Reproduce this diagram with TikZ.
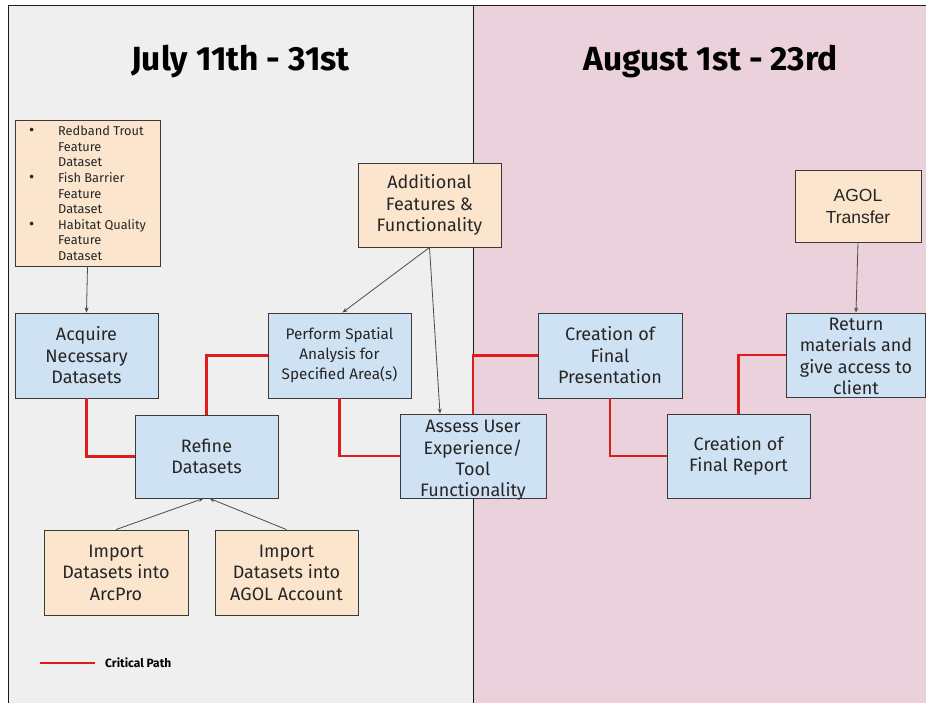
\documentclass[tikz,border=0pt]{standalone}
\usepackage{fontspec}
\setmainfont{Fira Sans}
\newfontfamily\arialf{Liberation Sans}
\usetikzlibrary{arrows.meta}
\definecolor{leftbg}{HTML}{EFEFEF}
\definecolor{rightbg}{HTML}{EAD1DC}
\definecolor{orangefill}{HTML}{FCE5CD}
\definecolor{bluefill}{HTML}{CFE2F3}
\definecolor{critred}{HTML}{E01B1B}
\definecolor{boxline}{HTML}{3A3A3A}
\definecolor{arrowgray}{HTML}{4A4A4A}
\definecolor{framecol}{HTML}{1A1A1A}
\begin{document}
\begin{tikzpicture}[x=1pt,y=-1pt,
  box/.style={draw=boxline, line width=0.9pt, align=center, inner sep=0pt, text=black!85, font=\fontsize{18}{21.5}\selectfont},
  bluebox/.style={box, fill=bluefill},
  orangebox/.style={box, fill=orangefill},
  crit/.style={draw=critred, line width=2.6pt},
  arr/.style={draw=arrowgray, line width=0.8pt, -{Stealth[length=5pt,width=4pt]}},
  titletext/.style={font=\bfseries\fontsize{33.5}{38}\selectfont}]
\useasboundingbox (0,0) rectangle (926,703);
\fill[leftbg] (8,6) rectangle (473,703);
\fill[rightbg] (473,6) rectangle (926,703);
\draw[framecol, line width=1pt] (8,703) -- (8,6) -- (926,6);
\draw[framecol, line width=1pt] (473,6) -- (473,703);

\node[titletext] (t1) at (240.5,62) {July 11th - 31st};
\node[titletext] (t2) at (710.5,62) {August 1st - 23rd};

\node[orangebox, minimum width=145pt, minimum height=146pt, font=\fontsize{12.8}{15.6}\selectfont] (feat) at (87.5,193)
  {\raisebox{-2pt}[\height][\depth]{\begin{tabular}{@{}p{29pt}@{}l@{}}
   {\fontsize{16}{15}\selectfont\textbullet} & Redband Trout\\ & Feature\\ & Dataset\\
   {\fontsize{16}{15}\selectfont\textbullet} & Fish Barrier\\ & Feature\\ & Dataset\\
   {\fontsize{16}{15}\selectfont\textbullet} & Habitat Quality\\ & Feature\\ & Dataset
   \end{tabular}}};
\node[bluebox, minimum width=143pt, minimum height=85pt] (acq) at (86.5,355.5) {Acquire\\Necessary\\Datasets};
\node[bluebox, minimum width=143pt, minimum height=83pt] (refine) at (206.5,456.5) {Refine\\Datasets};
\node[bluebox, minimum width=143pt, minimum height=85pt, font=\fontsize{15.3}{20}\selectfont] (spatial) at (339.5,355.5) {Perform Spatial\\Analysis for\\Specified Area(s)};
\node[orangebox, minimum width=143pt, minimum height=84pt] (addl) at (429.5,205) {Additional\\Features \&\\Functionality};
\node[bluebox, minimum width=146pt, minimum height=84pt] (assess) at (473,456)
  {\raisebox{-4.5pt}[\height][\depth]{\parbox{144pt}{\centering\fontsize{18}{21.3}\selectfont Assess User\\Experience/\\Tool\\Functionality}}};
\node[orangebox, minimum width=144pt, minimum height=85pt] (imparc) at (116,572.5) {Import\\Datasets into\\ArcPro};
\node[orangebox, minimum width=143pt, minimum height=85pt] (impagol) at (286.5,572.5) {Import\\Datasets into\\AGOL Account};
\node[bluebox, minimum width=144pt, minimum height=85pt] (pres) at (610,355.5) {Creation of\\Final\\Presentation};
\node[bluebox, minimum width=143pt, minimum height=84pt] (report) at (738.5,456) {Creation of\\Final Report};
\node[orangebox, minimum width=126pt, minimum height=72pt, font=\arialf\fontsize{17.5}{22}\selectfont] (agolt) at (858,206) {AGOL\\Transfer};
\node[bluebox, minimum width=139pt, minimum height=84pt] (ret) at (856,355)
  {\raisebox{-1.5pt}[\height][\depth]{\parbox{138pt}{\centering\fontsize{18}{21.2}\selectfont Return\\materials and\\give access to\\client}}};

\draw[crit] (acq.south) |- (refine.west);
\draw[crit] (refine.north) |- (spatial.west);
\draw[crit] (spatial.south) |- (assess.west);
\draw[crit] (assess.north) |- (pres.west);
\draw[crit] (pres.south) |- (report.west);
\draw[crit] (report.north) |- (ret.west);

\draw[arr] (feat.south) -- (acq.north);
\draw[arr] (addl.south) -- ([xshift=3pt]spatial.north);
\draw[arr] (addl.south) -- ([xshift=-33pt]assess.north);
\draw[arr] (imparc.north) -- ([xshift=-3pt]refine.south);
\draw[arr] (impagol.north) -- ([xshift=3pt]refine.south);
\draw[arr] (agolt.south) -- (ret.north);

\coordinate (lg1) at (40,663);
\coordinate (lg2) at (95,663);
\draw[crit] (lg1) -- (lg2);
\node[anchor=west, inner sep=0pt, font=\bfseries\fontsize{12}{14}\selectfont] (lgt) at (105,662.5) {Critical Path};
\end{tikzpicture}
\end{document}
